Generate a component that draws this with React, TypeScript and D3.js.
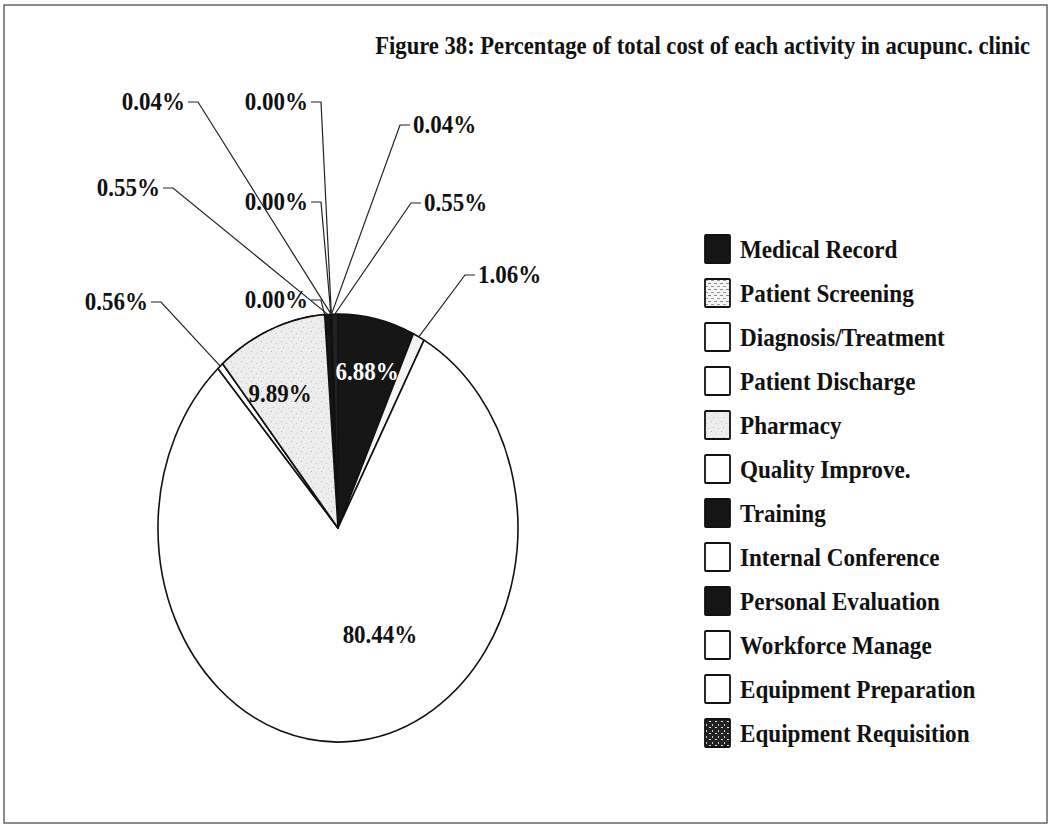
import React from "react";
import * as d3 from "d3";

const categories = [
  "Medical Record",
  "Patient Screening",
  "Diagnosis/Treatment",
  "Patient Discharge",
  "Pharmacy",
  "Quality Improve.",
  "Training",
  "Internal Conference",
  "Personal Evaluation",
  "Workforce Manage",
  "Equipment Preparation",
  "Equipment Requisition",
];
const values = [6.88, 1.06, 80.44, 0.56, 9.89, 0.0, 0.55, 0.0, 0.04, 0.0, 0.04, 0.55];
const valueLabels = ["6.88%", "1.06%", "80.44%", "0.56%", "9.89%", "0.00%", "0.55%", "0.00%", "0.04%", "0.00%", "0.04%", "0.55%"];
const fills = [
  "#161616",
  "url(#patScreen)",
  "#ffffff",
  "#ffffff",
  "url(#patPharm)",
  "#ffffff",
  "#161616",
  "#ffffff",
  "#161616",
  "#ffffff",
  "#ffffff",
  "url(#patReq)",
];
const title = "Figure 38: Percentage of total cost of each activity in acupunc. clinic";

// label layout: "in" = inside text (center), "L" = label left of leader (anchor end), "R" = label right of leader (anchor start)
const labelLayout = [
  { type: "in", x: 367, y: 372, color: "#ffffff" },
  { type: "R", x: 478, y: 283 },
  { type: "in", x: 380, y: 635, color: "#111" },
  { type: "L", x: 148, y: 310 },
  { type: "in", x: 280, y: 394, color: "#111" },
  { type: "L", x: 308, y: 308 },
  { type: "L", x: 160, y: 196 },
  { type: "L", x: 308, y: 210 },
  { type: "L", x: 185, y: 110 },
  { type: "L", x: 308, y: 110 },
  { type: "R", x: 413, y: 133 },
  { type: "R", x: 424, y: 211 },
];

const FONT = "'Liberation Serif', 'Times New Roman', serif";

export default function App() {
  const cx = 338, cy = 528, rx = 180, ry = 214;
  const pie = d3.pie<number>().sort(null).value((d) => d).startAngle(0).endAngle(2 * Math.PI);
  const arcs = pie(values);
  const arc = d3.arc<d3.PieArcDatum<number>>().innerRadius(0).outerRadius(1);

  const legendY = d3.scaleLinear().domain([0, categories.length - 1]).range([249, 249 + 44 * 11]);

  const edge = (a: number) => [cx + rx * Math.sin(a), cy - ry * Math.cos(a)];

  return (
    <svg width={1051} height={830} style={{ position: "absolute", left: 0, top: 0, background: "#fff" }} fontFamily={FONT}>
      <defs>
        <pattern id="patPharm" width="10" height="10" patternUnits="userSpaceOnUse">
          <rect width="10" height="10" fill="#ededed" />
          <rect x="1" y="1" width="1" height="1" fill="#b4b4b4" />
          <rect x="6" y="3" width="1" height="1" fill="#c4c4c4" />
          <rect x="3" y="7" width="1" height="1" fill="#bcbcbc" />
          <rect x="8" y="8" width="1" height="1" fill="#d0d0d0" />
        </pattern>
        <pattern id="patScreen" width="6" height="6" patternUnits="userSpaceOnUse">
          <rect width="6" height="6" fill="#f4f4f4" />
          <rect x="0" y="1" width="3" height="1" fill="#888" />
          <rect x="3" y="4" width="3" height="1" fill="#999" />
        </pattern>
        <pattern id="patReq" width="6" height="6" patternUnits="userSpaceOnUse">
          <rect width="6" height="6" fill="#222" />
          <rect x="1" y="1" width="2" height="1" fill="#ddd" />
          <rect x="4" y="4" width="1" height="2" fill="#ccc" />
        </pattern>
      </defs>

      <rect x={4} y={5} width={1043} height={818} fill="none" stroke="#666" strokeWidth={1.5} />

      <text
        transform={`translate(1030,54) scale(0.87,1)`}
        textAnchor="end"
        fontSize={26}
        fontWeight="bold"
        fill="#111"
      >
        {title}
      </text>

      {/* pie */}
      <g transform={`translate(${cx},${cy}) scale(${rx},${ry})`}>
        {arcs.map((a, i) => (
          <path
            key={i}
            d={arc(a) || ""}
            fill={fills[i] === "url(#patPharm)" ? "#ededed" : fills[i]}
            stroke="#111"
            strokeWidth={1.6}
            vectorEffect="non-scaling-stroke"
            strokeLinejoin="round"
          />
        ))}
      </g>
      {/* stipple overlay for pharmacy slice, drawn in page space */}
      <path
        d={(() => {
          const a = arcs[4];
          const p = d3.path();
          p.moveTo(cx, cy);
          const n = 24;
          for (let k = 0; k <= n; k++) {
            const t = a.startAngle + ((a.endAngle - a.startAngle) * k) / n;
            const [x, y] = edge(t);
            p.lineTo(x, y);
          }
          p.closePath();
          return p.toString();
        })()}
        fill="url(#patPharm)"
        stroke="#111"
        strokeWidth={1.6}
        strokeLinejoin="round"
      />

      {/* labels */}
      {arcs.map((a, i) => {
        const L = labelLayout[i];
        if (L.type === "in") {
          return (
            <text
              key={i}
              transform={`translate(${L.x},${L.y + 8}) scale(0.92,1)`}
              textAnchor="middle"
              fontSize={25}
              fontWeight="bold"
              fill={L.color}
            >
              {valueLabels[i]}
            </text>
          );
        }
        const mid = (a.startAngle + a.endAngle) / 2;
        const [ex, ey] = edge(mid);
        const ty = L.y - 8;
        const t0 = L.type === "L" ? L.x + 3 : L.x - 3;
        const t1 = L.type === "L" ? L.x + 13 : L.x - 13;
        return (
          <g key={i}>
            <polyline
              points={`${t0},${ty} ${t1},${ty} ${ex},${ey}`}
              fill="none"
              stroke="#222"
              strokeWidth={1.2}
            />
            <text
              transform={`translate(${L.x},${L.y}) scale(0.92,1)`}
              textAnchor={L.type === "L" ? "end" : "start"}
              fontSize={25}
              fontWeight="bold"
              fill="#111"
            >
              {valueLabels[i]}
            </text>
          </g>
        );
      })}

      {/* legend */}
      {categories.map((c, i) => {
        const y = legendY(i);
        return (
          <g key={c}>
            <rect x={705} y={y - 14} width={25} height={28} fill={fills[i]} stroke="#111" strokeWidth={1.8} rx={1} />
            <text
              transform={`translate(740,${y + 9}) scale(0.89,1)`}
              fontSize={26}
              fontWeight="bold"
              fill="#111"
            >
              {c}
            </text>
          </g>
        );
      })}
    </svg>
  );
}
